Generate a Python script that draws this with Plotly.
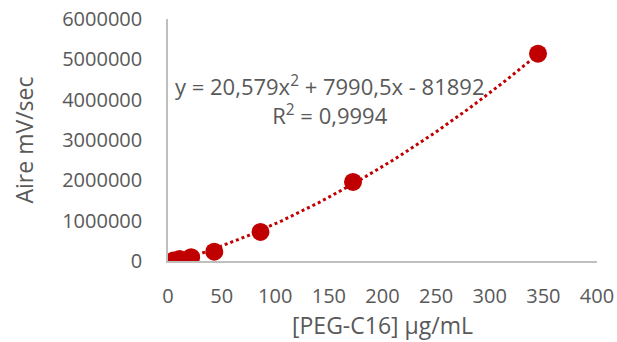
import numpy as np
import plotly.graph_objects as go

conc = [5.39, 10.78, 21.56, 43.13, 86.25, 172.5, 345.0]
aire = [15000, 50000, 95000, 230000, 720000, 1960000, 5140000]

# trendline coefficients as displayed on the chart
a2, a1, a0 = 20.579, 7990.5, -81892
eq_text = "y = 20,579x<sup>2</sup> + 7990,5x - 81892<br>R<sup>2</sup> = 0,9994"

xs = np.linspace(min(conc), max(conc), 200)
ys = a2 * xs**2 + a1 * xs + a0

red = "#c00000"
txt = "#595959"
font = "Open Sans, Liberation Sans, sans-serif"
fs = 20
fs_title = 23

fig = go.Figure()
fig.add_trace(go.Scatter(x=xs, y=ys, mode="lines",
                         line=dict(color=red, width=3, dash="dot"),
                         hoverinfo="skip", showlegend=False))
fig.add_trace(go.Scatter(x=conc, y=aire, mode="markers",
                         marker=dict(color=red, size=18),
                         showlegend=False))

fig.add_annotation(x=151, y=3980000, xref="x", yref="y", text=eq_text,
                   showarrow=False, align="center",
                   font=dict(family=font, size=22, color=txt))

fig.update_layout(
    width=617, height=342,
    margin=dict(l=168, r=20, t=19, b=81),
    paper_bgcolor="white", plot_bgcolor="white",
    font=dict(family=font, size=fs, color=txt),
)
fig.update_xaxes(range=[0, 400], tickvals=[0, 50, 100, 150, 200, 250, 300, 350, 400],
                 showgrid=False, zeroline=False, showline=True,
                 linecolor="#bfbfbf", linewidth=1.5, ticks="",
                 ticklabelstandoff=16, automargin=False,
                 title=dict(text="[PEG-C16] µg/mL", standoff=8,
                            font=dict(family=font, size=fs_title, color=txt)))
fig.update_yaxes(range=[0, 6000000], tickvals=[0, 1000000, 2000000, 3000000, 4000000, 5000000, 6000000],
                 ticktext=["0", "1000000", "2000000", "3000000", "4000000", "5000000", "6000000"],
                 showgrid=False, zeroline=False, showline=True,
                 linecolor="#bfbfbf", linewidth=1.5, ticks="",
                 ticklabelstandoff=20, automargin=False,
                 title=dict(text="Aire mV/sec", standoff=22,
                            font=dict(family=font, size=fs_title, color=txt)))

fig.write_html("out.html", config={"displayModeBar": False},
               post_script="document.body.style.margin='0';document.body.style.overflow='hidden';")
